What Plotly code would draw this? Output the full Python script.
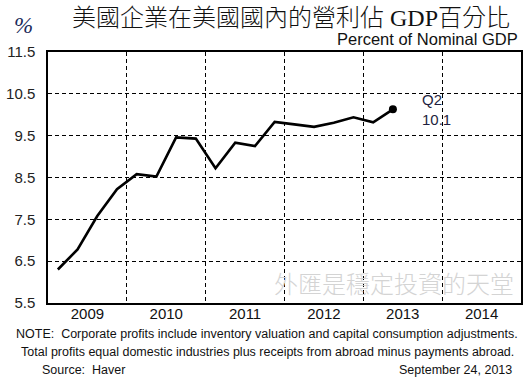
import plotly.graph_objects as go

# quarterly data, 2009 Q1 .. 2013 Q2 (percent of nominal GDP)
quarters = [2009.125 + 0.25 * i for i in range(18)]
values = [6.30, 6.78, 7.58, 8.22, 8.58, 8.52, 9.46, 9.43, 8.72, 9.33,
          9.25, 9.83, 9.77, 9.71, 9.81, 9.94, 9.82, 10.13]
year_labels = ["2009", "2010", "2011", "2012", "2013", "2014"]
year_label_pos = [2009.5, 2010.5, 2011.5, 2012.5, 2013.5, 2014.5]
year_grid = [2010, 2011, 2012, 2013, 2014]
y_ticks = [5.5, 6.5, 7.5, 8.5, 9.5, 10.5, 11.5]
last_label = ["Q2", "10.1"]

title = "美國企業在美國國內的營利佔 GDP百分比"
subtitle = "Percent of Nominal GDP"
note1 = "NOTE:  Corporate profits include inventory valuation and capital consumption adjustments."
note2 = "Total profits equal domestic industries plus receipts from abroad minus payments abroad."
source = "Source:  Haver"
date = "September 24, 2013"
watermark = "外匯是穩定投資的天堂"

SANS = "Liberation Sans, Arial, sans-serif"
SERIF_CJK = "Liberation Serif, Noto Sans CJK TC, serif"

fig = go.Figure()
fig.add_trace(go.Scatter(x=quarters, y=values, mode="lines",
                         line=dict(color="black", width=2.6), hoverinfo="skip"))
fig.add_trace(go.Scatter(x=[quarters[-1]], y=[values[-1]], mode="markers",
                         marker=dict(color="black", size=8), hoverinfo="skip"))

fig.update_layout(
    width=530, height=380,
    margin=dict(l=48, r=9, t=52, b=77, autoexpand=False),
    paper_bgcolor="white", plot_bgcolor="white",
    showlegend=False,
    font=dict(family=SANS, color="#111"),
    xaxis=dict(range=[2009, 2015], tickvals=year_label_pos, ticktext=year_labels,
               showgrid=False, zeroline=False, ticks="", ticklabelstandoff=-4,
               automargin=False,
               tickfont=dict(size=15, family=SANS, color="#111"),
               showline=True, mirror=True, linecolor="black", linewidth=1.5,
               minor=dict(tickvals=year_grid, showgrid=True, gridcolor="black",
                          griddash="4px,3px", gridwidth=1.2, ticks="")),
    yaxis=dict(range=[5.5, 11.5], tickvals=y_ticks, ticktext=[f"{v:.1f}" for v in y_ticks],
               showgrid=True, gridcolor="black", griddash="4px,3px", gridwidth=1.2,
               zeroline=False, ticks="", ticklabelstandoff=8, automargin=False,
               tickfont=dict(size=15, family=SANS, color="#222"),
               showline=True, mirror=True, linecolor="black", linewidth=1.5),
)

def paper_px(x, y):
    # convert pixel coords to paper coords
    return (x - 48) / 473.0, (380 - 77 - y) / 251.0

def add_px(text, x, y, size, xanchor="left", family=SANS, color="#111", italic=False, weight="normal"):
    px, py = paper_px(x, y)
    fig.add_annotation(text=text, x=px, y=py, xref="paper", yref="paper",
                       xanchor=xanchor, yanchor="middle", showarrow=False,
                       font=dict(size=size, family=family, color=color, weight=weight,
                                 style="italic" if italic else "normal"))

add_px(title, 291, 18, 24, xanchor="center", family=SERIF_CJK, color="#111", weight=300)
add_px("%", 12, 25, 23, family="Liberation Serif, serif", color="#1a2a5a", italic=True)
add_px(subtitle, 520, 38.5, 16.5, xanchor="right")
add_px(watermark, 516, 282, 24, xanchor="right", family="Noto Sans CJK TC", color="#d4d4d4", weight=300)
add_px(note1, 267, 334, 12.5, xanchor="center")
add_px(note2, 267, 352, 12.5, xanchor="center")
add_px(source, 40, 370, 12.5)
add_px(date, 514, 370, 12.5, xanchor="right")

fig.add_annotation(text=last_label[0] + "<br>" + last_label[1], x=quarters[-1], y=values[-1],
                   xref="x", yref="y", xanchor="left", yanchor="middle",
                   xshift=27, yshift=0, showarrow=False, align="left",
                   font=dict(size=15, family=SANS, color="#1f1f40"))

fig.write_html("out.html", config={"displayModeBar": False},
               post_script="document.body.style.margin='0';document.body.style.overflow='hidden';")
